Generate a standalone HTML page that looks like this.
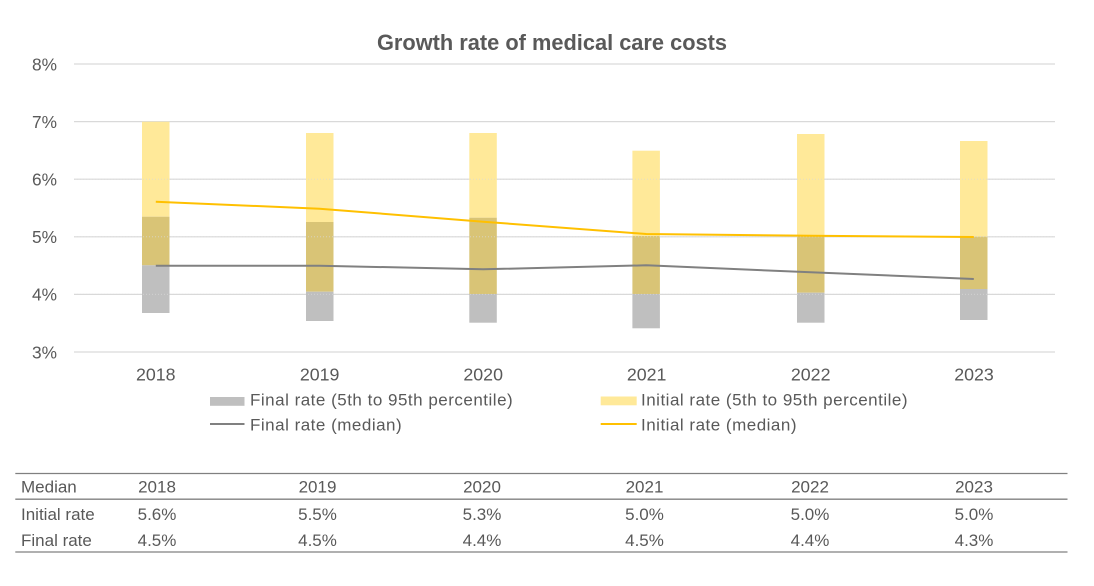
<!DOCTYPE html>
<html>
<head>
<meta charset="utf-8">
<style>
  html, body { margin: 0; padding: 0; background: #ffffff; }
  svg { display: block; }
  text { font-family: "Liberation Sans", Arial, sans-serif; fill: #595959; }
</style>
</head>
<body>
<svg width="1094" height="586" viewBox="0 0 1094 586" xmlns="http://www.w3.org/2000/svg">
  <rect x="0" y="0" width="1094" height="586" fill="#ffffff"/>

  <!-- Title -->
  <text x="552" y="50" text-anchor="middle" font-size="21.8" font-weight="bold">Growth rate of medical care costs</text>

  <!-- Gridlines -->
  <g stroke="#D9D9D9" stroke-width="1.2">
    <line x1="74" y1="64" x2="1055" y2="64"/>
    <line x1="74" y1="121.6" x2="1055" y2="121.6"/>
    <line x1="74" y1="179.2" x2="1055" y2="179.2"/>
    <line x1="74" y1="236.8" x2="1055" y2="236.8"/>
    <line x1="74" y1="294.4" x2="1055" y2="294.4"/>
    <line x1="74" y1="352" x2="1055" y2="352"/>
  </g>

  <!-- Y axis labels -->
  <g font-size="17.3" text-anchor="end">
    <text x="57" y="70.3">8%</text>
    <text x="57" y="127.9">7%</text>
    <text x="57" y="185.5">6%</text>
    <text x="57" y="243.1">5%</text>
    <text x="57" y="300.7">4%</text>
    <text x="57" y="358.3">3%</text>
  </g>

  <!-- Bars: yellow-only, overlap (olive), grey-only -->
  <g>
    <!-- 2018 -->
    <rect x="142" y="121.7" width="27.5" height="95" fill="#FFE999"/>
    <rect x="142" y="216.7" width="27.5" height="48.6" fill="#D9C476"/>
    <rect x="142" y="265.3" width="27.5" height="47.7" fill="#BFBFBF"/>
    <!-- 2019 -->
    <rect x="306" y="133" width="27.5" height="89" fill="#FFE999"/>
    <rect x="306" y="222" width="27.5" height="69.7" fill="#D9C476"/>
    <rect x="306" y="291.7" width="27.5" height="29.3" fill="#BFBFBF"/>
    <!-- 2020 -->
    <rect x="469.3" y="133" width="27.5" height="84.7" fill="#FFE999"/>
    <rect x="469.3" y="217.7" width="27.5" height="76.3" fill="#D9C476"/>
    <rect x="469.3" y="294" width="27.5" height="28.7" fill="#BFBFBF"/>
    <!-- 2021 -->
    <rect x="632.4" y="150.7" width="27.5" height="85.3" fill="#FFE999"/>
    <rect x="632.4" y="236" width="27.5" height="58" fill="#D9C476"/>
    <rect x="632.4" y="294" width="27.5" height="34.3" fill="#BFBFBF"/>
    <!-- 2022 -->
    <rect x="797" y="134" width="27.5" height="102" fill="#FFE999"/>
    <rect x="797" y="236" width="27.5" height="56.7" fill="#D9C476"/>
    <rect x="797" y="292.7" width="27.5" height="30" fill="#BFBFBF"/>
    <!-- 2023 -->
    <rect x="960" y="141" width="27.5" height="95.7" fill="#FFE999"/>
    <rect x="960" y="236.7" width="27.5" height="52.3" fill="#D9C476"/>
    <rect x="960" y="289" width="27.5" height="31" fill="#BFBFBF"/>
  </g>

  <!-- faint gridlines through bars -->
  <g stroke="#D9D9D9" stroke-width="1" stroke-dasharray="1 2" opacity="0.7">
    <line x1="74" y1="179.2" x2="1055" y2="179.2"/>
    <line x1="74" y1="236.8" x2="1055" y2="236.8"/>
    <line x1="74" y1="294.4" x2="1055" y2="294.4"/>
  </g>

  <!-- Median lines -->
  <polyline fill="none" stroke="#808080" stroke-width="2" stroke-linejoin="round"
    points="155.8,265.7 319.6,265.7 483.2,269.3 646.2,265.3 810.7,272.3 973.8,279"/>
  <polyline fill="none" stroke="#FFC000" stroke-width="2" stroke-linejoin="round"
    points="155.8,201.7 319.6,208.7 483.2,221.7 646.2,234 810.7,235.7 973.8,237"/>

  <!-- X axis labels -->
  <g font-size="17.8" text-anchor="middle">
    <text x="155.8" y="380.5">2018</text>
    <text x="319.6" y="380.5">2019</text>
    <text x="483.2" y="380.5">2020</text>
    <text x="646.6" y="380.5">2021</text>
    <text x="810.7" y="380.5">2022</text>
    <text x="974" y="380.5">2023</text>
  </g>

  <!-- Legend -->
  <rect x="210" y="397" width="34.5" height="8.8" fill="#BFBFBF"/>
  <text x="250" y="405.7" font-size="17" letter-spacing="0.5">Final rate (5th to 95th percentile)</text>
  <line x1="210" y1="424" x2="244.5" y2="424" stroke="#808080" stroke-width="2"/>
  <text x="250" y="430.7" font-size="17" letter-spacing="0.5">Final rate (median)</text>

  <rect x="600.7" y="396.5" width="36" height="8.8" fill="#FFE999"/>
  <text x="641" y="405.7" font-size="17" letter-spacing="0.5">Initial rate (5th to 95th percentile)</text>
  <line x1="600.7" y1="424" x2="636.7" y2="424" stroke="#FFC000" stroke-width="2"/>
  <text x="641" y="430.7" font-size="17" letter-spacing="0.5">Initial rate (median)</text>

  <!-- Table -->
  <g stroke="#808080" stroke-width="1.3">
    <line x1="15.3" y1="473.5" x2="1067.5" y2="473.5"/>
    <line x1="15.3" y1="499.2" x2="1067.5" y2="499.2"/>
    <line x1="15.3" y1="552" x2="1067.5" y2="552"/>
  </g>
  <g font-size="17">
    <text x="21" y="492.3">Median</text>
    <text x="21" y="520">Initial rate</text>
    <text x="21" y="546">Final rate</text>
  </g>
  <g font-size="17" text-anchor="middle">
    <text x="157" y="492.3">2018</text>
    <text x="317.5" y="492.3">2019</text>
    <text x="482" y="492.3">2020</text>
    <text x="644.5" y="492.3">2021</text>
    <text x="810" y="492.3">2022</text>
    <text x="974" y="492.3">2023</text>

    <text x="157" y="520">5.6%</text>
    <text x="317.5" y="520">5.5%</text>
    <text x="482" y="520">5.3%</text>
    <text x="644.5" y="520">5.0%</text>
    <text x="810" y="520">5.0%</text>
    <text x="974" y="520">5.0%</text>

    <text x="157" y="546">4.5%</text>
    <text x="317.5" y="546">4.5%</text>
    <text x="482" y="546">4.4%</text>
    <text x="644.5" y="546">4.5%</text>
    <text x="810" y="546">4.4%</text>
    <text x="974" y="546">4.3%</text>
  </g>
</svg>
</body>
</html>
